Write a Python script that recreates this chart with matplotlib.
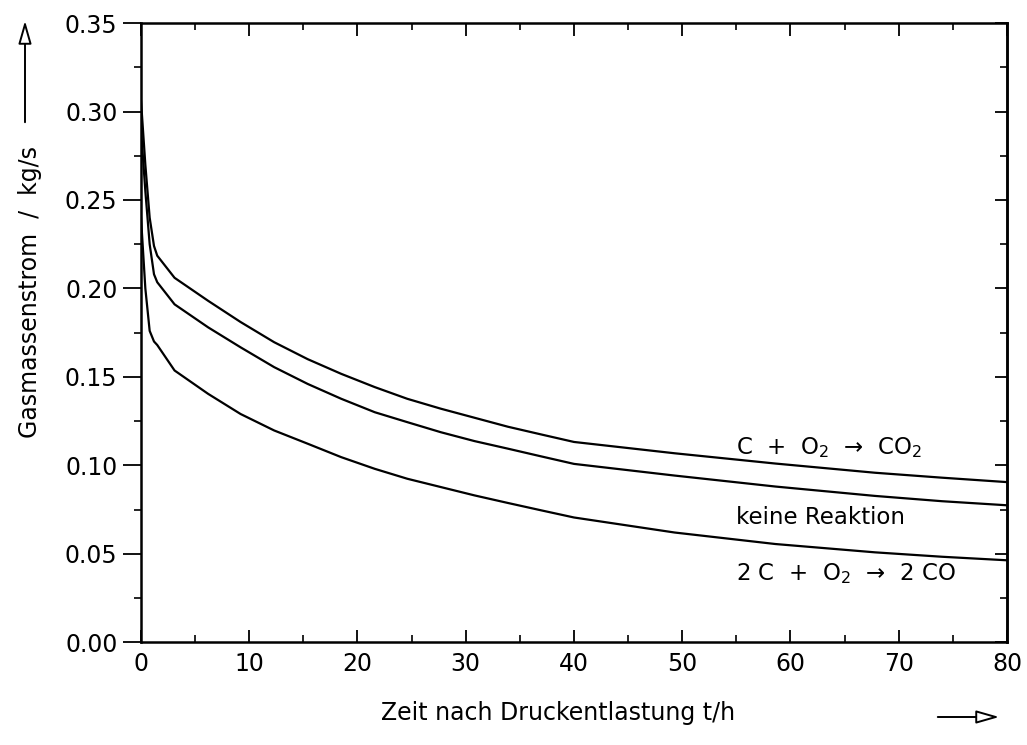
import matplotlib
matplotlib.use("Agg")
import matplotlib.pyplot as plt
from matplotlib.patches import FancyArrowPatch
from matplotlib.ticker import MultipleLocator

# ------------------------------
# Data
# ------------------------------
t_h = [0, 0.4, 0.8, 1.2, 1.5, 3.1, 6.2, 9.2, 12.3, 15.4, 18.5, 21.6, 24.6,
       27.7, 30.8, 33.9, 37.0, 40.0, 49.3, 58.6, 67.8, 74.0, 80.0]

m_co2 = [0.306, 0.270, 0.240, 0.224, 0.2185, 0.206, 0.193, 0.181, 0.1696, 0.160,
         0.1517, 0.1442, 0.1376, 0.132, 0.1269, 0.1218, 0.1174, 0.1132, 0.1068,
         0.1010, 0.0958, 0.093, 0.0905]
m_none = [0.290, 0.255, 0.225, 0.208, 0.2035, 0.191, 0.178, 0.1667, 0.1555, 0.146,
          0.1376, 0.130, 0.1244, 0.1187, 0.1137, 0.1094, 0.105, 0.1008, 0.0942,
          0.0880, 0.0827, 0.0797, 0.0774]
m_co = [0.240, 0.200, 0.176, 0.170, 0.168, 0.1536, 0.1404, 0.129, 0.1197, 0.1122,
        0.1046, 0.098, 0.0924, 0.0877, 0.083, 0.0787, 0.0745, 0.0705, 0.0620,
        0.0555, 0.0508, 0.0483, 0.0463]

labels = [r"C  +  O$_2$  →  CO$_2$", "keine Reaktion", r"2 C  +  O$_2$  →  2 CO"]
label_x = 55.0
label_y = [0.110, 0.0705, 0.039]

xlabel = "Zeit nach Druckentlastung t/h"
ylabel = "Gasmassenstrom  /  kg/s"

# ------------------------------
# Figure
# ------------------------------
plt.rcParams["font.family"] = "DejaVu Sans"
plt.rcParams["mathtext.fontset"] = "dejavusans"

fig = plt.figure(figsize=(10.27, 7.45), dpi=100)
ax = fig.add_axes([0.1373, 0.138, 0.8432, 0.831])

for ys in (m_co2, m_none, m_co):
    ax.plot(t_h, ys, color="black", lw=1.6, solid_joinstyle="round")

for txt, yy in zip(labels, label_y):
    ax.text(label_x, yy, txt, fontsize=16.5, va="center", ha="left")

ax.set_xlim(0, 80)
ax.set_ylim(0, 0.35)
ax.xaxis.set_major_locator(MultipleLocator(10))
ax.xaxis.set_minor_locator(MultipleLocator(5))
ax.yaxis.set_major_locator(MultipleLocator(0.05))
ax.yaxis.set_minor_locator(MultipleLocator(0.025))
ax.yaxis.set_major_formatter(plt.FuncFormatter(lambda v, p: f"{v:.2f}"))

for s in ax.spines.values():
    s.set_linewidth(1.8)

ax.tick_params(axis="x", which="major", direction="in", length=9, width=1.3,
               labelsize=17, pad=7, top=True)
ax.tick_params(axis="x", which="minor", direction="in", length=5, width=1.2, top=True)
ax.tick_params(axis="y", which="major", direction="out", length=13, width=1.3,
               labelsize=17, pad=4)
ax.tick_params(axis="y", which="minor", direction="out", length=5, width=1.2)

# right-hand ticks point inward
sec = ax.secondary_yaxis("right")
sec.yaxis.set_major_locator(MultipleLocator(0.05))
sec.yaxis.set_minor_locator(MultipleLocator(0.025))
sec.tick_params(which="major", direction="in", length=9, width=1.3, labelright=False)
sec.tick_params(which="minor", direction="in", length=5, width=1.2)
sec.spines["right"].set_linewidth(1.8)

fig.text(558 / 1027, 1 - 713 / 745, xlabel, fontsize=17, ha="center", va="center")
fig.text(30 / 1027, 1 - 292 / 745, ylabel, fontsize=17, ha="center", va="center",
         rotation=90)

# axis direction arrows (open heads)
fig.patches.append(FancyArrowPatch((935 / 1027, 1 - 717 / 745), (1002 / 1027, 1 - 717 / 745),
                                   transform=fig.transFigure, arrowstyle="-|>,head_length=14,head_width=4",
                                   fc="white", ec="black", lw=1.4, mutation_scale=1))
fig.patches.append(FancyArrowPatch((25 / 1027, 1 - 125 / 745), (25 / 1027, 1 - 18 / 745),
                                   transform=fig.transFigure, arrowstyle="-|>,head_length=14,head_width=4",
                                   fc="white", ec="black", lw=1.4, mutation_scale=1))

fig.savefig("out.png", dpi=100)
